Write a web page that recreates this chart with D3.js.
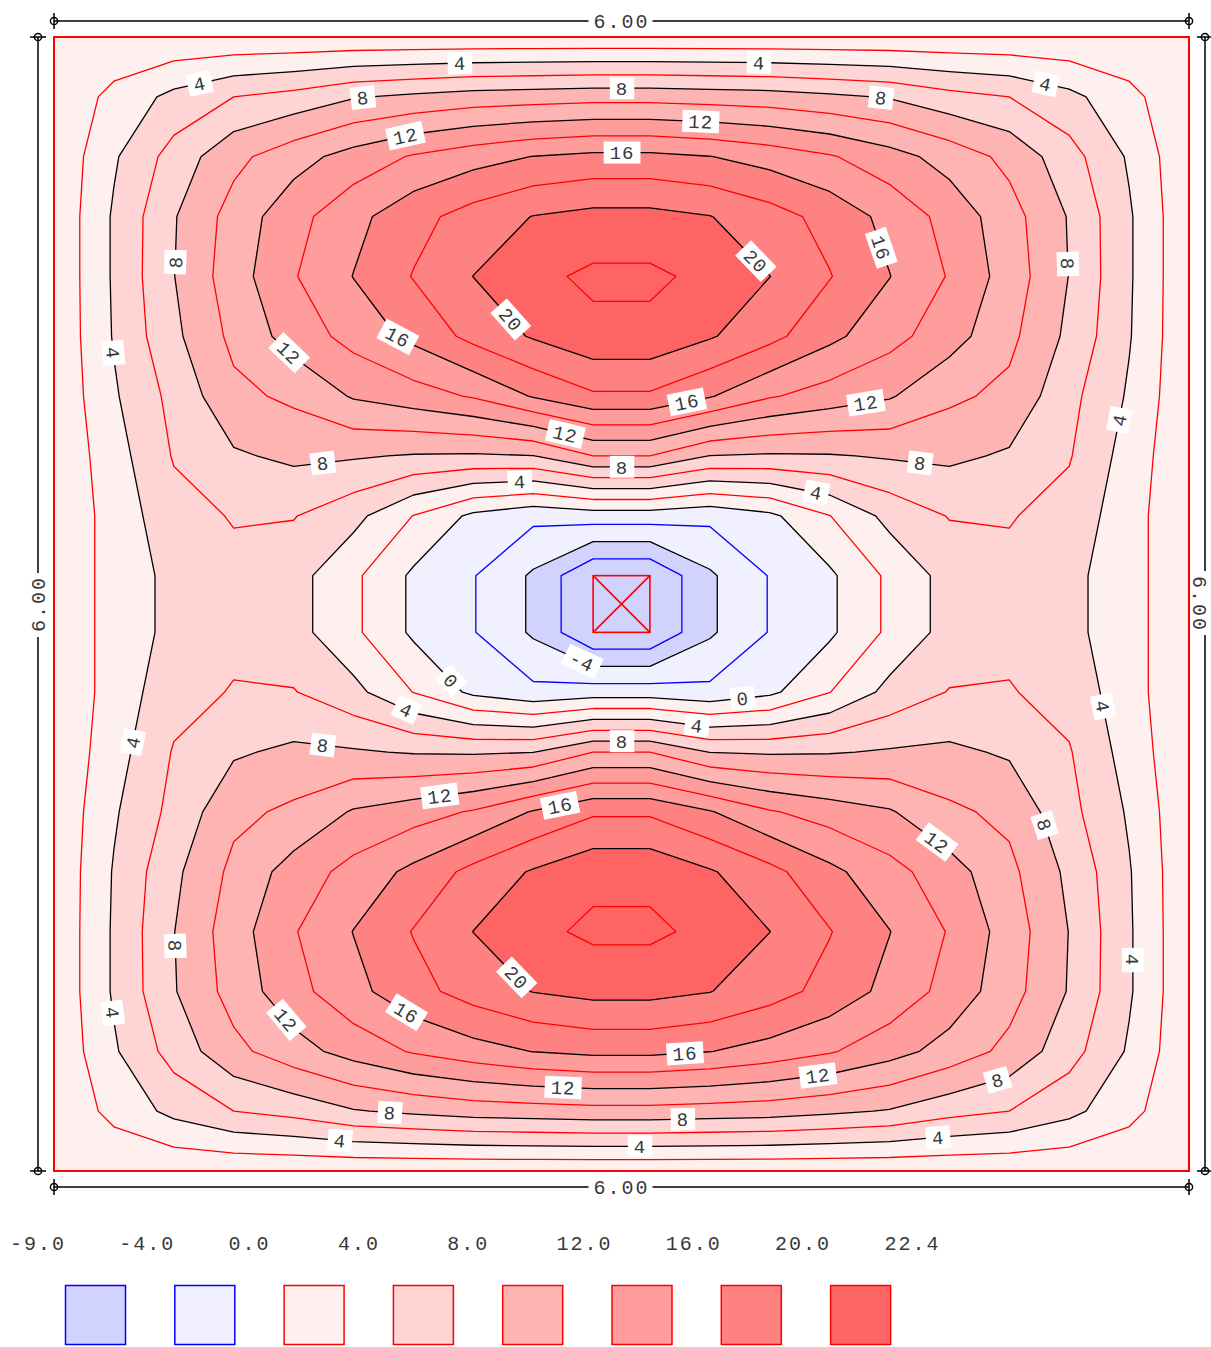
<!DOCTYPE html>
<html>
<head>
<meta charset="utf-8">
<script src="https://cdn.jsdelivr.net/npm/d3@7"></script>
<style>
  body { margin: 0; background: #fff; }
  svg { display: block; }
  text { font-family: "Liberation Mono", "DejaVu Sans Mono", monospace; fill: #383838; }
</style>
</head>
<body>
<svg id="chart" width="1211" height="1347"></svg>
<script>
// Slab panel 6.00 x 6.00 m with a 0.30 x 0.30 m column in the middle.
const spanX = 6.0;
const spanY = 6.0;
const columnSize = 0.3;
const divisionsPerSide = 9;

// Moment at mesh nodes of the upper-left quarter of the panel
// (rows: top edge -> column face, columns: left edge -> column face).
const quarterValues = [
  [0.0, 0.3,  0.3,  0.3,   0.3,   0.3,   0.3,   0.3,   0.3,   0.3],
  [0.3, 2.6,  4.55, 6.0,   6.7,   7.85,  8.4,   8.9,   9.1,   9.3],
  [0.3, 3.75, 6.8,  9.45,  11.2,  12.8,  14.2,  15.2,  16.05, 16.5],
  [0.3, 4.25, 7.85, 10.8,  13.3,  15.4,  17.3,  18.85, 20.06, 20.6],
  [0.3, 4.25, 7.95, 11.1,  13.85, 16.05, 18.1,  20.02, 21.48, 22.4],
  [0.3, 4.15, 7.55, 10.5,  12.85, 14.7,  16.5,  18.6,  20.2,  21.44],
  [0.3, 3.75, 6.6,  9.5,   10.4,  12.2,  13.1,  14.2,  16.16, 17.7],
  [0.3, 3.15, 6.15, 7.75,  8.4,   8.2,   7.85,  7.75,  7.95,  10.0],
  [0.3, 2.8,  5.28, 6.13,  6.1,   4.62,  1.95,  -0.44, -1.5,  -1.0],
  [0.3, 2.8,  4.55, 5.5,   4.75,  2.4,   -0.35, -1.9,  -4.3,  -7.95]
];

// Colour bands and their limits
const bandLimits = [-9, -4, 0, 4, 8, 12, 16, 20, 22.4];
const bandColors = ["#d2d2ff", "#f0f0ff", "#fff0f0", "#ffd4d4", "#ffb4b4", "#ff9c9c", "#ff8282", "#ff6464"];
const bandStrokes = ["#0000ff", "#0000ff", "#ff0000", "#ff0000", "#ff0000", "#ff0000", "#ff0000", "#ff0000"];

// Iso-lines drawn every 2 units
const lineLevels = [-6, -4, -2, 0, 2, 4, 6, 8, 10, 12, 14, 16, 18, 20, 22];

const legendTicks = ["-9.0", "-4.0", "0.0", "4.0", "8.0", "12.0", "16.0", "20.0", "22.4"];
const dimensionText = "6.00";

// Contour labels: [level, x (m), y (m)]
const contourLabels = [
  [4, 2.146, 0.143], [4, 3.727, 0.143], [4, 0.772, 0.254], [4, 5.239, 0.265],
  [8, 1.633, 0.317], [8, 3.003, 0.259], [8, 4.372, 0.323],
  [12, 1.855, 0.508], [12, 3.42, 0.429], [16, 3.003, 0.608],
  [8, 0.624, 1.19], [8, 5.36, 1.201], [20, 3.706, 1.19], [16, 4.372, 1.116],
  [20, 2.4, 1.508], [4, 0.307, 1.672], [16, 1.803, 1.614], [12, 1.221, 1.693],
  [16, 3.346, 1.931], [12, 4.292, 1.937], [12, 2.701, 2.111], [4, 5.635, 2.026],
  [8, 1.422, 2.259], [8, 3.003, 2.28], [8, 4.578, 2.259],
  [4, 2.463, 2.349], [4, 4.033, 2.397],
  [-4, 2.781, 3.328], [0, 2.093, 3.413], [0, 3.642, 3.508],
  [4, 1.855, 3.577], [4, 3.399, 3.646], [4, 0.412, 3.73], [4, 5.53, 3.545],
  [8, 1.422, 3.741], [8, 3.003, 3.72],
  [12, 2.04, 4.021], [16, 2.675, 4.063], [12, 4.684, 4.238], [8, 5.239, 4.169],
  [8, 0.624, 4.81], [4, 5.704, 4.884], [20, 2.426, 4.995],
  [4, 0.307, 5.164], [12, 1.221, 5.206], [16, 1.855, 5.175],
  [16, 3.336, 5.381], [12, 4.039, 5.497], [8, 4.985, 5.508], [12, 2.691, 5.571],
  [8, 1.776, 5.693], [8, 3.325, 5.741],
  [4, 1.512, 5.836], [4, 3.098, 5.873], [4, 4.673, 5.82]
];

// ---- mesh ----
const halfSpanX = (spanX - columnSize) / 2;
const halfSpanY = (spanY - columnSize) / 2;
const sideNodes = (half) => d3.range(divisionsPerSide + 1).map(k => k * half / divisionsPerSide);
const nodesX = sideNodes(halfSpanX).concat(sideNodes(halfSpanX).map(v => v + halfSpanX + columnSize));
const nodesY = sideNodes(halfSpanY).concat(sideNodes(halfSpanY).map(v => v + halfSpanY + columnSize));
const nx = nodesX.length, ny = nodesY.length;
const q = quarterValues.length;

// Full nodal grid, the quarter reflected about both column axes
const grid = new Array(nx * ny);
for (let j = 0; j < ny; j++) {
  for (let i = 0; i < nx; i++) {
    const qj = j < q ? j : ny - 1 - j;
    const qi = i < q ? i : nx - 1 - i;
    grid[j * nx + i] = quarterValues[qj][qi];
  }
}

// ---- scales ----
const svg = d3.select("#chart");
const x = d3.scaleLinear().domain([0, spanX]).range([54, 1189]);
const y = d3.scaleLinear().domain([0, spanY]).range([37, 1171]);
const gx = d3.scaleLinear().domain(d3.range(nx)).range(nodesX.map(x));
const gy = d3.scaleLinear().domain(d3.range(ny)).range(nodesY.map(y));

const contourGen = d3.contours().size([nx, ny]);
const path = d3.geoPath();

function toScreen(geom) {
  return {
    type: geom.type,
    value: geom.value,
    coordinates: geom.coordinates.map(poly =>
      poly.map(ring => ring.map(([c, r]) => [gx(c - 0.5), gy(r - 0.5)])))
  };
}
const contourAt = level => toScreen(contourGen.contour(grid, level));

// ---- clip to the panel ----
const defs = svg.append("defs");
defs.append("clipPath").attr("id", "panelClip")
  .append("rect")
  .attr("x", x(0)).attr("y", y(0))
  .attr("width", x(spanX) - x(0)).attr("height", y(spanY) - y(0));

const plot = svg.append("g").attr("clip-path", "url(#panelClip)");

// filled bands
plot.append("rect")
  .attr("x", x(0)).attr("y", y(0))
  .attr("width", x(spanX) - x(0)).attr("height", y(spanY) - y(0))
  .attr("fill", bandColors[0]);

bandLimits.slice(1, bandLimits.length - 1).forEach((level, k) => {
  plot.append("path")
    .attr("d", path(contourAt(level)))
    .attr("fill", bandColors[k + 1])
    .attr("fill-rule", "evenodd")
    .attr("stroke", "none");
});

// iso-lines
const lineColor = v => (v % 4 === 0 ? "#000000" : (v > 0 ? "#ff0000" : "#0000ff"));
const contourLines = {};
lineLevels.forEach(level => {
  const geom = contourAt(level);
  contourLines[level] = geom;
  plot.append("path")
    .attr("d", path(geom))
    .attr("fill", "none")
    .attr("stroke", lineColor(level))
    .attr("stroke-width", 1.3)
    .attr("stroke-linejoin", "round");
});

// panel outline
svg.append("rect")
  .attr("x", x(0)).attr("y", y(0))
  .attr("width", x(spanX) - x(0)).attr("height", y(spanY) - y(0))
  .attr("fill", "none").attr("stroke", "#ff0000").attr("stroke-width", 2);

// column
const c0 = halfSpanX, c1 = halfSpanX + columnSize;
const r0 = halfSpanY, r1 = halfSpanY + columnSize;
const col = svg.append("g").attr("stroke", "#ff0000").attr("stroke-width", 1.6).attr("fill", "none");
col.append("rect").attr("x", x(c0)).attr("y", y(r0)).attr("width", x(c1) - x(c0)).attr("height", y(r1) - y(r0));
col.append("line").attr("x1", x(c0)).attr("y1", y(r0)).attr("x2", x(c1)).attr("y2", y(r1));
col.append("line").attr("x1", x(c1)).attr("y1", y(r0)).attr("x2", x(c0)).attr("y2", y(r1));

// ---- contour labels, placed on the nearest segment of their iso-line ----
const xmin = x(0), xmax = x(spanX), ymin = y(0), ymax = y(spanY);
const inside = p => p[0] >= xmin - 0.5 && p[0] <= xmax + 0.5 && p[1] >= ymin - 0.5 && p[1] <= ymax + 0.5;

function anchorOn(level, px, py) {
  const geom = contourLines[level];
  let best = null, bestD = Infinity;
  if (!geom) return { x: px, y: py, angle: 0 };
  geom.coordinates.forEach(poly => poly.forEach(ring => {
    for (let k = 0; k < ring.length - 1; k++) {
      const a = ring[k], b = ring[k + 1];
      if (!inside(a) || !inside(b)) continue;
      const dx = b[0] - a[0], dy = b[1] - a[1];
      const len2 = dx * dx + dy * dy;
      if (len2 === 0) continue;
      let t = ((px - a[0]) * dx + (py - a[1]) * dy) / len2;
      t = Math.max(0, Math.min(1, t));
      const qx = a[0] + t * dx, qy = a[1] + t * dy;
      const d = (qx - px) ** 2 + (qy - py) ** 2;
      if (d < bestD) {
        bestD = d;
        let ang = Math.atan2(dy, dx) * 180 / Math.PI;
        if (ang > 90) ang -= 180;
        if (ang <= -90) ang += 180;
        best = { x: qx, y: qy, angle: ang };
      }
    }
  }));
  return best || { x: px, y: py, angle: 0 };
}

const labelLayer = svg.append("g");
contourLabels.forEach(([level, xm, ym]) => {
  const a = anchorOn(level, x(xm), y(ym));
  const g = labelLayer.append("g").attr("transform", `translate(${a.x},${a.y}) rotate(${a.angle})`);
  const rect = g.append("rect").attr("fill", "#ffffff");
  const t = g.append("text")
    .attr("text-anchor", "middle")
    .attr("dy", "0.36em")
    .attr("font-size", 19)
    .attr("letter-spacing", 1)
    .text(String(level));
  const w = t.node().getComputedTextLength();
  rect.attr("x", -w / 2 - 6).attr("y", -11).attr("width", w + 12).attr("height", 22);
});

// ---- dimension lines ----
function marker(g, cx, cy, vertical) {
  g.append("line")
    .attr("x1", vertical ? cx - 8 : cx).attr("x2", vertical ? cx + 8 : cx)
    .attr("y1", vertical ? cy : cy - 8).attr("y2", vertical ? cy : cy + 8);
  g.append("circle").attr("cx", cx).attr("cy", cy).attr("r", 3.6).attr("fill", "none");
}

function dimension(x1, y1, x2, y2, rotate, shift) {
  const g = svg.append("g").attr("stroke", "#000").attr("stroke-width", 1.5).attr("fill", "none");
  g.append("line").attr("x1", x1).attr("y1", y1).attr("x2", x2).attr("y2", y2);
  const vertical = x1 === x2;
  marker(g, x1, y1, vertical);
  marker(g, x2, y2, vertical);
  const mx = (x1 + x2) / 2 + (vertical ? shift : 0), my = (y1 + y2) / 2;
  const tg = svg.append("g").attr("transform", `translate(${mx},${my}) rotate(${rotate})`);
  const bg = tg.append("rect").attr("fill", "#fff");
  const t = tg.append("text")
    .attr("text-anchor", "middle").attr("dy", "0.36em")
    .attr("font-size", 20).attr("letter-spacing", 2)
    .text(dimensionText);
  const w = t.node().getComputedTextLength();
  bg.attr("x", -w / 2 - 5).attr("y", -8).attr("width", w + 8).attr("height", 16);
}

const off = 16;
dimension(x(0), y(0) - off, x(spanX), y(0) - off, 0, 0);
dimension(x(0), y(spanY) + off, x(spanX), y(spanY) + off, 0, 0);
dimension(x(0) - off, y(0), x(0) - off, y(spanY), -90, 0);
dimension(x(spanX) + off, y(0), x(spanX) + off, y(spanY), 90, -5);

// ---- legend ----
const legendX = d3.scaleLinear().domain([0, legendTicks.length - 1]).range([10, 10 + 109.3 * (legendTicks.length - 1)]);
const legend = svg.append("g");
legendTicks.forEach((tick, k) => {
  legend.append("text")
    .attr("x", legendX(k)).attr("y", 1250)
    .attr("font-size", 20).attr("letter-spacing", 2)
    .text(tick);
});
bandColors.forEach((c, k) => {
  legend.append("rect")
    .attr("x", legendX(k) + 55.5).attr("y", 1285.5)
    .attr("width", 60).attr("height", 59)
    .attr("fill", c).attr("stroke", bandStrokes[k]).attr("stroke-width", 1.5);
});
</script>
</body>
</html>
